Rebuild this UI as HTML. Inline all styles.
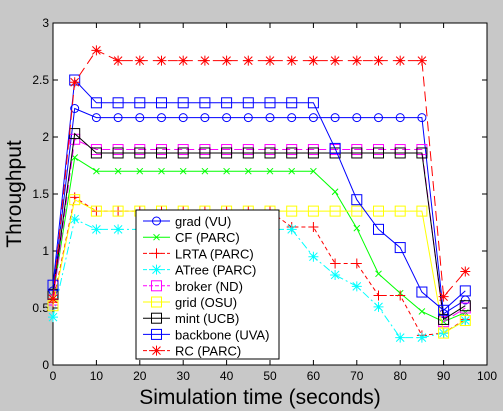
<!DOCTYPE html>
<html><head><meta charset="utf-8"><style>
html,body{margin:0;padding:0;background:#c8c8c8;}
svg{display:block;font-family:"Liberation Sans",sans-serif;}
</style></head><body>
<svg id="chart" width="503" height="411">
<rect x="0" y="0" width="503" height="411" fill="#c8c8c8"/>
<rect x="53" y="23" width="434" height="342" fill="#fff" stroke="#000"/>
<g id="ticks"></g>
<g id="series"></g>
<text x="260" y="404" font-size="21" text-anchor="middle">Simulation time (seconds)</text>
<text transform="translate(21,194) rotate(-90)" font-size="21" text-anchor="middle">Throughput</text>
<g id="legend"></g>
</svg>
<script>
const xs = [0,5,10,15,20,25,30,35,40,45,50,55,60,65,70,75,80,85,90,95];
const xTicks = [0,10,20,30,40,50,60,70,80,90,100];
const yTicks = [0,0.5,1,1.5,2,2.5,3];
const yTickLabels = ["0","0.5","1","1.5","2","2.5","3"];
const seriesNames = ["grad (VU)","CF (PARC)","LRTA (PARC)","ATree (PARC)","broker (ND)","grid (OSU)","mint (UCB)","backbone (UVA)","RC (PARC)"];
const gradVU = [0.65,2.25,2.17,2.17,2.17,2.17,2.17,2.17,2.17,2.17,2.17,2.17,2.17,2.17,2.17,2.17,2.17,2.17,0.45,0.57];
const cfPARC = [0.6,1.82,1.70,1.70,1.70,1.70,1.70,1.70,1.70,1.70,1.70,1.70,1.70,1.52,1.2,0.8,0.63,0.47,0.38,0.46];
const lrtaPARC = [0.55,1.47,1.35,1.35,1.35,1.35,1.35,1.35,1.35,1.35,1.35,1.21,1.21,0.89,0.89,0.61,0.61,0.26,0.28,0.4];
const atreePARC = [0.42,1.28,1.19,1.19,1.19,1.19,1.19,1.19,1.19,1.19,1.19,1.19,0.95,0.79,0.69,0.51,0.24,0.24,0.28,0.39];
const brokerND = [0.57,1.98,1.89,1.89,1.89,1.89,1.89,1.89,1.89,1.89,1.89,1.89,1.89,1.89,1.89,1.89,1.89,1.89,0.38,0.5];
const gridOSU = [0.52,1.45,1.35,1.35,1.35,1.35,1.35,1.35,1.35,1.35,1.35,1.35,1.35,1.35,1.35,1.35,1.35,1.35,0.28,0.39];
const mintUCB = [0.62,2.03,1.86,1.86,1.86,1.86,1.86,1.86,1.86,1.86,1.86,1.86,1.86,1.86,1.86,1.86,1.86,1.86,0.4,0.52];
const backboneUVA = [0.7,2.5,2.3,2.3,2.3,2.3,2.3,2.3,2.3,2.3,2.3,2.3,2.3,1.9,1.45,1.19,1.03,0.64,0.48,0.65];
const rcPARC = [0.58,2.48,2.76,2.67,2.67,2.67,2.67,2.67,2.67,2.67,2.67,2.67,2.67,2.67,2.67,2.67,2.67,2.67,0.6,0.82];

const NS="http://www.w3.org/2000/svg";
const X0=53,X1=487,Y0=365,Y1=23;
function sx(v){return X0+(v-0)/(100-0)*(X1-X0);}
function sy(v){return Y0-(v-0)/(3-0)*(Y0-Y1);}
function mk(tag,attrs,parent){const e=document.createElementNS(NS,tag);for(const k in attrs)e.setAttribute(k,attrs[k]);parent.appendChild(e);return e;}

const tg=document.getElementById('ticks');
xTicks.forEach(t=>{
  const x=sx(t);
  const l1=mk('line',{x1:x,y1:Y0,x2:x,y2:Y0-5,stroke:'#000'},tg);
  
  
  const l2=mk('line',{x1:x,y1:Y1,x2:x,y2:Y1+5,stroke:'#000'},tg);
  
  
  const tx=mk('text',{x:x,y:Y0+15,'font-size':12,'text-anchor':'middle'},tg);
  tx.textContent=t;
  
  
});
yTicks.forEach((t,i)=>{
  const y=sy(t);
  const l1=mk('line',{x1:X0,y1:y,x2:X0+5,y2:y,stroke:'#000'},tg);
  
  
  const l2=mk('line',{x1:X1,y1:y,x2:X1-5,y2:y,stroke:'#000'},tg);
  
  
  const tx=mk('text',{x:X0-4,y:y+4,'font-size':12,'text-anchor':'end'},tg);
  tx.textContent=yTickLabels[i];
  
  
});

const styles=[
 {d:gradVU,c:'#0000ff',dash:'',m:'circle'},
 {d:cfPARC,c:'#00ff00',dash:'',m:'x'},
 {d:lrtaPARC,c:'#ff0000',dash:'4,3',m:'plus'},
 {d:atreePARC,c:'#00ffff',dash:'8,3,2,3',m:'star'},
 {d:brokerND,c:'#ff00ff',dash:'8,4',m:'square'},
 {d:gridOSU,c:'#ffff00',dash:'',m:'square'},
 {d:mintUCB,c:'#000000',dash:'',m:'square'},
 {d:backboneUVA,c:'#0000ff',dash:'',m:'square'},
 {d:rcPARC,c:'#ff0000',dash:'10,5',m:'star'}
];
function marker(g,m,x,y,c){
  const a={stroke:c,fill:'none','stroke-width':1};
  if(m==='circle')mk('circle',Object.assign({cx:x,cy:y,r:4},a),g);
  else if(m==='square')mk('rect',Object.assign({x:x-5,y:y-5,width:10,height:10},a),g);
  else if(m==='x'){mk('path',Object.assign({d:`M${x-3},${y-3}L${x+3},${y+3}M${x-3},${y+3}L${x+3},${y-3}`},a),g);}
  else if(m==='plus'){mk('path',Object.assign({d:`M${x-5},${y}L${x+5},${y}M${x},${y-5}L${x},${y+5}`},a),g);}
  else if(m==='star'){mk('path',Object.assign({d:`M${x-5},${y}L${x+5},${y}M${x},${y-5}L${x},${y+5}M${x-4},${y-4}L${x+4},${y+4}M${x-4},${y+4}L${x+4},${y-4}`},a),g);}
}
const sg=document.getElementById('series');
styles.forEach((s,i)=>{
  const g=mk('g',{},sg);
  
  
  const pts=s.d.map((v,j)=>sx(xs[j])+','+sy(v)).join(' ');
  const pl=mk('polyline',{points:pts,fill:'none',stroke:s.c,'stroke-width':1,'stroke-dasharray':s.dash},g);
  
  
  s.d.forEach((v,j)=>marker(g,s.m,sx(xs[j]),sy(v),s.c));
});

const lg=document.getElementById('legend');
const lb=mk('rect',{x:136,y:210,width:143,height:149,fill:'#fff',stroke:'#000'},lg);


styles.forEach((s,i)=>{
  const y=221+i*16.2;
  const g=mk('g',{},lg);
  
  
  mk('line',{x1:143,y1:y,x2:170,y2:y,stroke:s.c,'stroke-dasharray':s.dash?'4,2':''},g);
  marker(g,s.m,156.5,y,s.c);
  const t=mk('text',{x:175,y:y+5,'font-size':13},g);
  t.textContent=seriesNames[i];
});
</script>
</body></html>
